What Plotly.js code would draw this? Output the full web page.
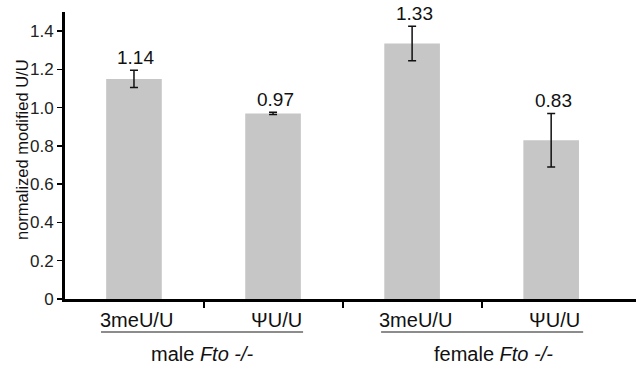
<!DOCTYPE html>
<html>
<head>
<meta charset="utf-8">
<script src="https://cdn.plot.ly/plotly-3.0.1.min.js"></script>
<style>html,body{margin:0;padding:0;background:#fff;}#chart{width:638px;height:365px;}</style>
</head>
<body>
<div id="chart"></div>
<script>
// Data
var categories = ['3meU/U', 'ΨU/U', '3meU/U', 'ΨU/U'];
var values = [1.15, 0.97, 1.335, 0.83];
var errors = [0.045, 0.006, 0.09, 0.14];
var valueLabels = ['1.14', '0.97', '1.33', '0.83'];
var groups = ['male <i>Fto -/-</i>', 'female <i>Fto -/-</i>'];
var yTickVals = [0, 0.2, 0.4, 0.6, 0.8, 1.0, 1.2, 1.4];
var yTickText = ['0', '0.2', '0.4', '0.6', '0.8', '1.0', '1.2', '1.4'];

var xs = categories.map(function (c, i) { return i; });
var FONT = 'Liberation Sans, Arial, sans-serif';

var trace = {
  type: 'bar',
  x: xs,
  y: values,
  width: 0.4,
  marker: { color: '#c6c6c6', line: { width: 0 } },
  error_y: { type: 'data', array: errors, visible: true, color: '#111', thickness: 1.5, width: 4 },
  hoverinfo: 'skip'
};

var annotations = [];
// value labels above error bars
values.forEach(function (v, i) {
  annotations.push({
    x: xs[i], y: v + errors[i], xref: 'x', yref: 'y',
    text: valueLabels[i], showarrow: false, yanchor: 'bottom', yshift: 0, xshift: 2,
    font: { family: FONT, size: 19, color: '#111' }
  });
});
// category labels below axis
categories.forEach(function (c, i) {
  annotations.push({
    x: xs[i], y: 0, xref: 'x', yref: 'paper',
    text: c, showarrow: false, yanchor: 'middle', yshift: -21, xshift: 3,
    font: { family: FONT, size: 20, color: '#111' }
  });
});
// group labels
var groupCenters = [(xs[0] + xs[1]) / 2, (xs[2] + xs[3]) / 2];
var groupShift = [-1, 12];
groups.forEach(function (g, i) {
  annotations.push({
    x: groupCenters[i], y: 0, xref: 'x', yref: 'paper',
    text: g, showarrow: false, yanchor: 'middle', yshift: -55, xshift: groupShift[i],
    borderpad: 0,
    font: { family: FONT, size: 20, color: '#111' }
  });
});
// y axis title
annotations.push({
  x: 0, y: 0.519, xref: 'paper', yref: 'paper', xanchor: 'center', yanchor: 'middle',
  xshift: -43, text: 'normalized modified U/U', textangle: -90, showarrow: false,
  font: { family: FONT, size: 16.5, color: '#111' }
});

// underline shapes for groups
var shapes = [
  { type: 'line', xref: 'x', yref: 'paper', x0: -0.237, x1: 1.216, y0: -0.115, y1: -0.115, line: { color: '#666', width: 1.5 } },
  { type: 'line', xref: 'x', yref: 'paper', x0: 1.777, x1: 3.23, y0: -0.115, y1: -0.115, line: { color: '#666', width: 1.5 } }
];

var layout = {
  width: 638, height: 365,
  margin: { l: 65, r: 2, t: 12, b: 66 },
  paper_bgcolor: '#fff', plot_bgcolor: '#fff',
  showlegend: false,
  xaxis: {
    range: [-0.496, 3.61], showgrid: false, zeroline: false,
    showline: true, linecolor: '#000', linewidth: 3,
    tickmode: 'array', tickvals: [0.5, 1.5, 2.5], ticktext: ['', '', ''],
    ticks: 'outside', ticklen: 6, tickwidth: 2, tickcolor: '#000', fixedrange: true
  },
  yaxis: {
    range: [0, 1.5], showgrid: false, zeroline: false,
    showline: true, linecolor: '#000', linewidth: 3,
    tickmode: 'array', tickvals: yTickVals, ticktext: yTickText,
    ticks: 'outside', ticklen: 5, tickwidth: 1.5, tickcolor: '#000',
    tickfont: { family: FONT, size: 17, color: '#222' }, fixedrange: true
  },
  annotations: annotations,
  shapes: shapes
};

Plotly.newPlot('chart', [trace], layout, { displayModeBar: false, staticPlot: true });
</script>
</body>
</html>
